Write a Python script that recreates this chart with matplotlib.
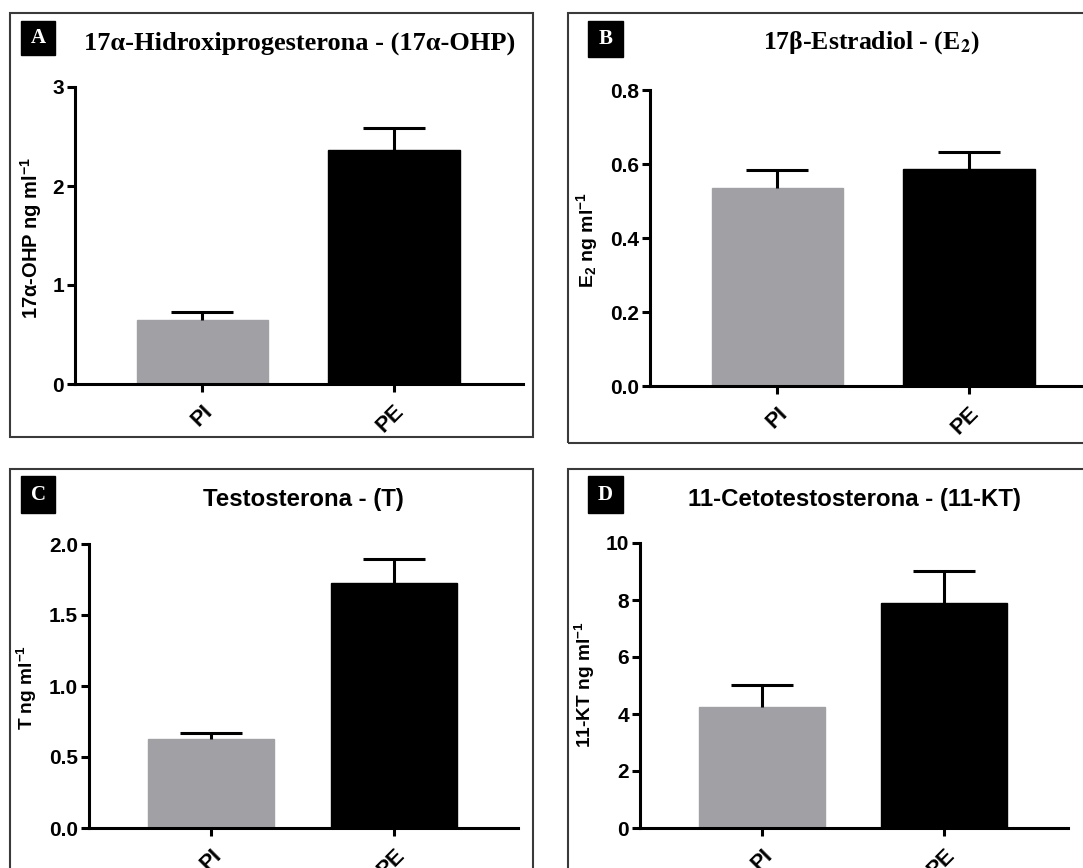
import matplotlib
matplotlib.use("Agg")
import matplotlib.pyplot as plt
from matplotlib.patches import Rectangle

plt.rcParams['mathtext.fontset'] = 'custom'
plt.rcParams['mathtext.rm'] = 'Liberation Sans:bold'
plt.rcParams['mathtext.bf'] = 'Liberation Sans:bold'
plt.rcParams['mathtext.default'] = 'bf'

W, H = 1083, 868

groups = ['PI', 'PE']
means_a = [0.65, 2.36]
sem_a = [0.08, 0.23]
means_b = [0.536, 0.587]
sem_b = [0.048, 0.046]
means_c = [0.625, 1.725]
sem_c = [0.047, 0.17]
means_d = [4.25, 7.9]
sem_d = [0.77, 1.12]

ticks_a = [0, 1, 2, 3]
ticks_b = [0.0, 0.2, 0.4, 0.6, 0.8]
ticks_c = [0.0, 0.5, 1.0, 1.5, 2.0]
ticks_d = [0, 2, 4, 6, 8, 10]

bar_colors = ['#a1a1a5', '#000000']

fig = plt.figure(figsize=(W / 100, H / 100), dpi=100)


def px(l, t, r, b):
    return [l / W, 1 - b / H, (r - l) / W, (b - t) / H]


def panel(rect, means, sem, ticks, fmt):
    ax = fig.add_axes(px(*rect))
    x = list(range(len(groups)))
    ax.bar(x, means, width=0.69, color=bar_colors, edgecolor=bar_colors, zorder=2)
    eb = ax.errorbar(x, means, yerr=[[0] * len(sem), sem], fmt='none', ecolor='black',
                     elinewidth=2.2, capsize=22, capthick=2.2, zorder=3)
    # only the upper cap is drawn
    eb[1][0].remove()
    ax.set_xlim(-0.667, 1.677)
    ax.set_ylim(ticks[0], ticks[-1])
    ax.set_yticks(ticks)
    ax.set_yticklabels([fmt.format(t) for t in ticks], fontsize=15, fontweight='bold',
                       family='Liberation Sans')
    ax.set_xticks(x)
    ax.set_xticklabels(groups, rotation=45, fontsize=16, fontweight='bold',
                       family='Liberation Sans', ha='right', rotation_mode='anchor')
    for s in ['top', 'right']:
        ax.spines[s].set_visible(False)
    for s in ['left', 'bottom']:
        ax.spines[s].set_linewidth(2.2)
    ax.tick_params(width=2.2, length=6, pad=2)
    ax.tick_params(axis='x', pad=6)
    ax.patch.set_alpha(0)
    ax.spines['bottom'].set_zorder(4)
    return ax


panel((75, 87, 523, 384), means_a, sem_a, ticks_a, '{:g}')
panel((650, 90, 1098, 386), means_b, sem_b, ticks_b, '{:.1f}')
panel((89, 544, 518, 828), means_c, sem_c, ticks_c, '{:.1f}')
panel((640, 543, 1068, 828), means_d, sem_d, ticks_d, '{:g}')

# panel frames
for l, t, r, b in [(10, 13, 533, 437), (568, 13, 1095, 443),
                   (10, 469, 533, 880), (568, 469, 1095, 880)]:
    fig.add_artist(Rectangle((l / W, 1 - b / H), (r - l) / W, (b - t) / H,
                             transform=fig.transFigure, fill=False,
                             edgecolor='#3a3a3a', linewidth=1.5))

# letter boxes
for letter, (l, t, r, b) in zip('ABCD', [(21, 21, 55, 55), (588, 21, 623, 57),
                                         (21, 476, 55, 513), (588, 476, 623, 513)]):
    fig.add_artist(Rectangle((l / W, 1 - b / H), (r - l) / W, (b - t) / H,
                             transform=fig.transFigure, color='black'))
    fig.text((l + r) / 2 / W, 1 - (t + b) / 2 / H, letter, color='white',
             fontsize=15, fontweight='bold', family='Liberation Serif',
             ha='center', va='center')

# titles
fig.text(300 / W, 1 - 43 / H, '17α-Hidroxiprogesterona - (17α-OHP)', fontsize=19,
         fontweight='bold', family='Liberation Serif', ha='center', va='center')
fig.text(871 / W, 1 - 43 / H, r'17β-Estradiol - (E$_\mathbf{2}$)', fontsize=18.5,
         fontweight='bold', family='Liberation Serif', ha='center', va='center',
         math_fontfamily='stix')
fig.text(303 / W, 1 - 500 / H, 'Testosterona - (T)', fontsize=17.3,
         fontweight='bold', family='Liberation Sans', ha='center', va='center')
fig.text(854 / W, 1 - 500 / H, '11-Cetotestosterona - (11-KT)', fontsize=17.3,
         fontweight='bold', family='Liberation Sans', ha='center', va='center')

# y labels
for x, y, s, fs in [(31, 238, r'17α-OHP ng ml$^{-1}$', 14.5),
                    (587, 240, r'E$_{2}$ ng ml$^{-1}$', 14),
                    (27, 687, r'T ng ml$^{-1}$', 13.8),
                    (585, 685, r'11-KT ng ml$^{-1}$', 13.8)]:
    fig.text(x / W, 1 - y / H, s, rotation=90, fontsize=fs, fontweight='bold',
             family='Liberation Sans', ha='center', va='center')

fig.savefig('out.png', dpi=100)
